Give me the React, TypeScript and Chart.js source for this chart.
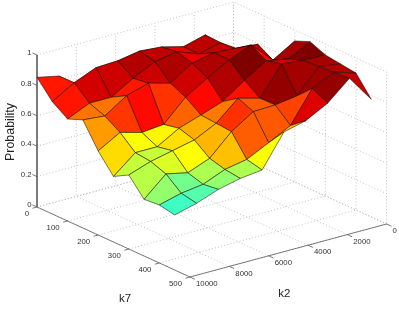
import { useEffect, useRef } from "react";
import { Chart, registerables } from "chart.js";

Chart.register(...registerables);

const k7Values = [0, 50, 100, 150, 200, 250, 300, 350, 400, 450];
const k2Values = [10000, 8889, 7778, 6667, 5556, 4444, 3333, 2222, 1111, 0];

const probK7_0 = [0.853, 0.823, 0.705, 0.719, 0.746, 0.741, 0.722, 0.696, 0.644, 0.539];
const probK7_50 = [0.739, 0.825, 0.885, 0.892, 0.917, 0.905, 0.868, 0.907, 0.756, 0.599];
const probK7_100 = [0.671, 0.736, 0.736, 0.822, 0.893, 0.92, 0.866, 0.902, 0.776, 0.671];
const probK7_150 = [0.711, 0.698, 0.793, 0.836, 0.797, 0.89, 0.921, 0.911, 0.899, 0.678];
const probK7_200 = [0.553, 0.636, 0.597, 0.611, 0.751, 0.838, 0.919, 0.979, 0.841, 0.928];
const probK7_250 = [0.431, 0.549, 0.549, 0.632, 0.68, 0.73, 0.83, 0.92, 0.894, 0.969];
const probK7_300 = [0.487, 0.537, 0.569, 0.601, 0.672, 0.798, 0.759, 0.946, 0.93, 0.928];
const probK7_350 = [0.373, 0.501, 0.47, 0.526, 0.663, 0.756, 0.761, 0.782, 0.936, 0.914];
const probK7_400 = [0.382, 0.42, 0.44, 0.499, 0.526, 0.597, 0.672, 0.877, 0.945, 0.901];
const probK7_450 = [0.362, 0.4, 0.453, 0.486, 0.503, 0.714, 0.75, 0.826, 0.951, 0.774];
const probability = [
  probK7_0, probK7_50, probK7_100, probK7_150, probK7_200,
  probK7_250, probK7_300, probK7_350, probK7_400, probK7_450,
];

const k7Ticks = [0, 100, 200, 300, 400, 500];
const k2Ticks = [0, 2000, 4000, 6000, 8000, 10000];
const zTicks = [0, 0.2, 0.4, 0.6, 0.8, 1];

const K7_MAX = 500;
const K2_MAX = 10000;
const COLOR_MAX = 0.965;

type P = { x: number; y: number };

// Orthographic projection of the 3D box onto the flat 2D scales.
function project(k7: number, k2: number, z: number): P {
  const a = k7 / K7_MAX;
  const b = (K2_MAX - k2) / K2_MAX;
  return { x: 37 + 153 * a + 196.6 * b, y: 207 + 70 * a - 53 * b - 152 * z };
}

function jet(t: number): string {
  const c = (v: number) => Math.round(255 * Math.max(0, Math.min(1, v)));
  const s = Math.min(1, t);
  const r = Math.min(4 * s - 1.5, -4 * s + 4.5);
  const g = Math.min(4 * s - 0.5, -4 * s + 3.5);
  const b = Math.min(4 * s + 0.5, -4 * s + 2.5);
  return `rgb(${c(r)},${c(g)},${c(b)})`;
}

const GRID = { borderColor: "#b4b4b4", borderWidth: 0.8, borderDash: [1, 2.2] };
const AXIS = { borderColor: "#5a5a5a", borderWidth: 0.8 };

function line(points: P[], style: object) {
  return { data: points, showLine: true, pointRadius: 0, fill: false, tension: 0, ...style };
}

function buildDatasets() {
  const list: any[] = [];
  // floor and wall grid
  for (const k7 of k7Ticks) {
    list.push(line([project(k7, K2_MAX, 0), project(k7, 0, 0), project(k7, 0, 1)], GRID));
  }
  for (const k2 of k2Ticks) {
    list.push(line([project(K7_MAX, k2, 0), project(0, k2, 0), project(0, k2, 1)], GRID));
  }
  for (const z of zTicks) {
    list.push(line([project(0, K2_MAX, z), project(0, 0, z), project(K7_MAX, 0, z)], GRID));
  }
  // axes and tick marks
  list.push(line([project(0, K2_MAX, 1), project(0, K2_MAX, 0), project(K7_MAX, K2_MAX, 0), project(K7_MAX, 0, 0)], AXIS));
  for (const z of zTicks) {
    list.push(line([project(0, K2_MAX, z), project(-15, K2_MAX, z)], AXIS));
  }
  for (const k7 of k7Ticks) {
    list.push(line([project(k7, K2_MAX, 0), project(k7, K2_MAX + 230, 0)], AXIS));
  }
  for (const k2 of k2Ticks) {
    list.push(line([project(K7_MAX, k2, 0), project(K7_MAX + 16, k2, 0)], AXIS));
  }
  // surface facets, far to near
  for (let i = 0; i < k7Values.length - 1; i++) {
    for (let j = k2Values.length - 2; j >= 0; j--) {
      const v = (a: number, b: number) => project(k7Values[a], k2Values[b], probability[a][b]);
      list.push(
        line([v(i, j), v(i, j + 1), v(i + 1, j + 1), v(i + 1, j), v(i, j)], {
          facetColor: jet(probability[i][j + 1] / COLOR_MAX),
          borderColor: "rgba(20,5,0,0.75)",
          borderWidth: 0.7,
        })
      );
    }
  }
  return list.map((d, k) => ({ ...d, order: list.length - k }));
}

const facetPlugin = {
  id: "facetFill",
  beforeDatasetDraw(chart: any, args: any) {
    const ds = chart.data.datasets[args.index];
    if (!ds.facetColor) return;
    const pts = args.meta.data;
    const ctx = chart.ctx;
    ctx.save();
    ctx.beginPath();
    pts.forEach((p: any, n: number) => (n ? ctx.lineTo(p.x, p.y) : ctx.moveTo(p.x, p.y)));
    ctx.closePath();
    ctx.fillStyle = ds.facetColor;
    ctx.fill();
    ctx.restore();
  },
};

const labelPlugin = {
  id: "boxLabels",
  afterDraw(chart: any) {
    const ctx = chart.ctx;
    const sx = chart.scales.x;
    const sy = chart.scales.y;
    const put = (text: string, p: P, dx: number, dy: number, align: string) => {
      ctx.textAlign = align;
      ctx.fillText(text, sx.getPixelForValue(p.x) + dx, sy.getPixelForValue(p.y) + dy);
    };
    ctx.save();
    ctx.textBaseline = "middle";
    ctx.fillStyle = "#333";
    ctx.font = '7.8px "Liberation Sans"';
    for (const z of zTicks) put(String(z), project(0, K2_MAX, z), -5.5, -2, "right");
    for (const k7 of k7Ticks) put(String(k7), project(k7, K2_MAX, 0), -8, 6.8, "right");
    for (const k2 of k2Ticks) put(String(k2), project(K7_MAX, k2, 0), 6, 7, "left");
    ctx.fillStyle = "#222";
    ctx.font = '11.5px "Liberation Sans"';
    put("k7", project(K7_MAX * 0.575, K2_MAX, 0), 0, 52, "center");
    put("k2", project(K7_MAX, K2_MAX * 0.52, 0), 0, 42.4, "center");
    ctx.translate(10.5, 132);
    ctx.rotate(-Math.PI / 2);
    ctx.font = '12.4px "Liberation Sans"';
    ctx.textAlign = "center";
    ctx.fillText("Probability", 0, 0);
    ctx.restore();
  },
};

export default function App() {
  const ref = useRef<HTMLCanvasElement>(null);
  useEffect(() => {
    const chart = new Chart(ref.current as HTMLCanvasElement, {
      type: "scatter",
      data: { datasets: buildDatasets() as any },
      options: {
        animation: false,
        responsive: false,
        layout: { padding: 0 },
        plugins: { legend: { display: false }, tooltip: { enabled: false }, filler: { propagate: false } as any },
        scales: {
          x: { type: "linear", display: false, min: 0, max: 399 },
          y: { type: "linear", display: false, min: 0, max: 309, reverse: true },
        },
      } as any,
      plugins: [facetPlugin, labelPlugin] as any,
    });
    return () => chart.destroy();
  }, []);
  return (
    <canvas
      ref={ref}
      width={399}
      height={309}
      style={{ position: "fixed", left: 0, top: 0, width: 399, height: 309, filter: "blur(0.3px)" }}
    />
  );
}
